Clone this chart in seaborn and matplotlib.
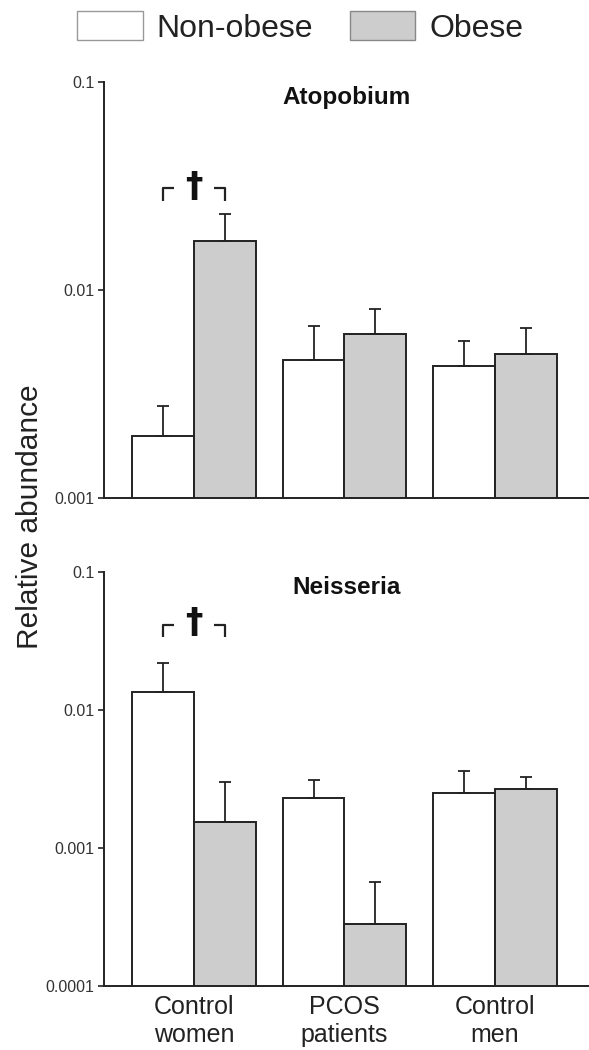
import numpy as np
import pandas as pd
import matplotlib
matplotlib.use("Agg")
import matplotlib.pyplot as plt
import matplotlib.transforms as mtransforms
from matplotlib.patches import Patch
import seaborn as sns

groups = ["Control\nwomen", "PCOS\npatients", "Control\nmen"]
status = ["Non-obese", "Obese"]

atopobium_nonobese = [0.00198, 0.0046, 0.00431]
atopobium_obese = [0.0173, 0.00617, 0.00492]
atopobium_nonobese_upper = [0.00277, 0.00672, 0.00565]
atopobium_obese_upper = [0.0231, 0.00809, 0.00657]

neisseria_nonobese = [0.0136, 0.00228, 0.00248]
neisseria_obese = [0.00155, 0.000281, 0.00268]
neisseria_nonobese_upper = [0.0218, 0.00311, 0.00363]
neisseria_obese_upper = [0.00299, 0.000561, 0.00325]

panels = [
    ("Atopobium", atopobium_nonobese, atopobium_obese,
     atopobium_nonobese_upper, atopobium_obese_upper, [0.001, 0.01, 0.1], ["0.001", "0.01", "0.1"]),
    ("Neisseria", neisseria_nonobese, neisseria_obese,
     neisseria_nonobese_upper, neisseria_obese_upper,
     [0.0001, 0.001, 0.01, 0.1], ["0.0001", "0.001", "0.01", "0.1"]),
]

sns.set_style("white")
plt.rcParams["font.family"] = ["Liberation Sans", "DejaVu Sans"]

fig = plt.figure(figsize=(5.89, 10.5), dpi=100)
ax_pos = [[0.1766, 0.5260, 0.8234, 0.3957], [0.1766, 0.0612, 0.8234, 0.3940]]

fill_colors = ["#ffffff", "#cdcdcd"]
edge = "#222222"

for i, (name, nonob, ob, nonob_up, ob_up, ticks, ticklabels) in enumerate(panels):
    ax = fig.add_axes(ax_pos[i])
    df = pd.DataFrame({
        "group": groups * 2,
        "status": [status[0]] * 3 + [status[1]] * 3,
        "value": list(nonob) + list(ob),
    })
    sns.barplot(data=df, x="group", y="value", hue="status", order=groups,
                hue_order=status, palette=fill_colors, edgecolor=edge,
                linewidth=1.4, width=0.82, gap=0, errorbar=None,
                legend=False, ax=ax, saturation=1)
    ax.set_yscale("log")
    uppers = [nonob_up, ob_up]
    for cont, up in zip(ax.containers, uppers):
        for bar, u in zip(cont, up):
            xc = bar.get_x() + bar.get_width() / 2
            h = bar.get_height()
            ax.errorbar(xc, h, yerr=[[0], [u - h]], fmt="none", ecolor=edge,
                        elinewidth=1.3, capsize=4.5, capthick=1.3, zorder=1)
    ax.set_ylim(ticks[0], ticks[-1])
    ax.set_xlim(-0.598, 2.625)
    ax.set_yticks(ticks)
    ax.set_yticklabels(ticklabels)
    ax.yaxis.set_minor_locator(matplotlib.ticker.NullLocator())
    ax.tick_params(axis="y", which="major", length=4, width=1.2, color=edge,
                   labelsize=11.5, labelcolor="#333333", pad=3, left=True)
    ax.tick_params(axis="x", length=0, labelsize=18, labelcolor="#222222", pad=7)
    ax.set_xlabel("")
    ax.set_ylabel("")
    if i == 0:
        ax.set_xticklabels([])
    for s in ["top", "right"]:
        ax.spines[s].set_visible(False)
    for s in ["left", "bottom"]:
        ax.spines[s].set_color(edge)
        ax.spines[s].set_linewidth(1.4)
    ax.text(0.5, 0.963, name, transform=ax.transAxes, ha="center", va="center",
            fontsize=17.5, fontweight="bold", color="#111111")

    # significance bracket between the two bars of the first group
    x_left = ax.containers[0][0].get_x() + ax.containers[0][0].get_width() / 2
    x_right = ax.containers[1][0].get_x() + ax.containers[1][0].get_width() / 2
    trans = mtransforms.blended_transform_factory(ax.transData, ax.transAxes)
    ax_h_px = ax_pos[i][3] * 1050
    ytop = [0.745, 0.872][i]
    ybot = ytop - 12.5 / ax_h_px
    arm = (x_right - x_left) * 0.17
    ax.plot([x_left, x_left, x_left + arm], [ybot, ytop, ytop], transform=trans,
            color=edge, lw=1.6, solid_capstyle="butt", clip_on=False)
    ax.plot([x_right - arm, x_right, x_right], [ytop, ytop, ybot], transform=trans,
            color=edge, lw=1.6, solid_capstyle="butt", clip_on=False)
    ax.text((x_left + x_right) / 2, ybot - 3 / ax_h_px, "\u2020", transform=trans,
            ha="center", va="bottom", fontsize=25, fontweight="bold",
            family="DejaVu Sans", color="#111111")

fig.text(30 / 589, 1 - 517 / 1050, "Relative abundance", rotation=90, ha="center",
         va="center", fontsize=21.5, color="#222222")

handles = [Patch(facecolor=fill_colors[0], edgecolor="#999999", linewidth=1.0),
           Patch(facecolor=fill_colors[1], edgecolor="#888888", linewidth=1.0)]
fig.legend(handles, status, loc="center", bbox_to_anchor=(0.51, 0.974), ncol=2,
           frameon=False, fontsize=23, handlelength=2.04, handleheight=1.03,
           handletextpad=0.44, columnspacing=1.16, labelcolor="#222222")

fig.savefig("out.png", dpi=100)
